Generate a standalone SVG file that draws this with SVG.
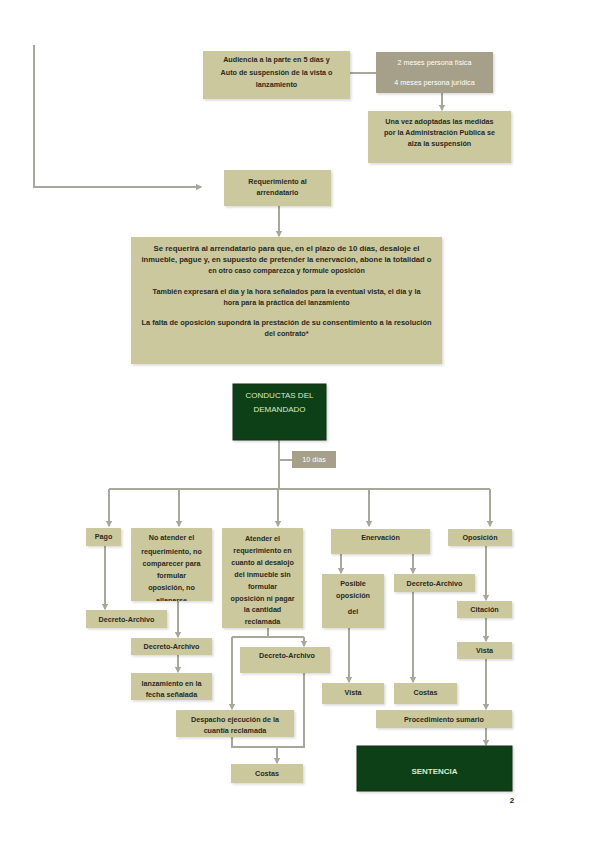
<svg xmlns="http://www.w3.org/2000/svg" width="599" height="848" viewBox="0 0 599 848">
<defs>
<style>
.bx{fill:#cbc89d;}
.gb{fill:#a69f89;}
.gr{fill:#0f3f14;stroke:#1d2a12;stroke-width:1;}
.t{font-family:"Liberation Sans",Arial,sans-serif;font-size:7.2px;font-weight:bold;fill:#2a2a1e;text-anchor:middle;}
.tw{font-family:"Liberation Sans",Arial,sans-serif;font-size:7.2px;fill:#ffffff;text-anchor:middle;}
.tg{font-family:"Liberation Sans",Arial,sans-serif;font-size:8px;fill:#d8ecc8;text-anchor:middle;}
.c{fill:none;stroke:#a9a79a;stroke-width:2;}
.ca{fill:none;stroke:#a9a79a;stroke-width:2;marker-end:url(#ah);}
</style>
<marker id="ah" viewBox="0 0 10 10" refX="8" refY="5" markerWidth="3.2" markerHeight="3.2" orient="auto">
<path d="M0,0 L10,5 L0,10 z" fill="#a9a79a"/>
</marker>
<filter id="sh" x="-10%" y="-10%" width="130%" height="140%">
<feDropShadow dx="1.5" dy="1.5" stdDeviation="1" flood-color="#000" flood-opacity="0.15"/>
</filter>
<clipPath id="clipNo"><rect x="131" y="528" width="81" height="73"/></clipPath>
</defs>
<rect width="599" height="848" fill="#ffffff"/>

<g id="connectors">
<path class="ca" d="M34,45 V187 H201"/>
<path class="c" d="M350,73 H376"/>
<path class="ca" d="M442,93 V110"/>
<path class="ca" d="M279,206 V236"/>
<path class="c" d="M279,440 V489"/>
<path class="c" d="M279,460 H292"/>
<path class="c" d="M109,489 H490"/>
<path class="ca" d="M109,489 V526"/>
<path class="ca" d="M179,489 V526"/>
<path class="ca" d="M278,489 V526"/>
<path class="ca" d="M369,489 V526"/>
<path class="ca" d="M490,489 V526"/>
<path class="ca" d="M105,546 V609"/>
<path class="ca" d="M178,601 V637"/>
<path class="ca" d="M178,655 V672"/>
<path class="c" d="M268,628 V637"/>
<path class="ca" d="M232,637 V709"/>
<path class="c" d="M232,637 H304"/>
<path class="ca" d="M304,637 V646"/>
<path class="c" d="M232,737 V747 H304 V673"/>
<path class="ca" d="M277,747 V763"/>
<path class="ca" d="M341,554 V573"/>
<path class="ca" d="M413,554 V573"/>
<path class="ca" d="M349,628 V682"/>
<path class="ca" d="M413,592 V682"/>
<path class="ca" d="M486,546 V600"/>
<path class="ca" d="M486,618 V641"/>
<path class="ca" d="M486,659 V709"/>
<path class="ca" d="M486,728 V745"/>
</g>

<g id="n-audiencia">
<rect class="bx" x="203" y="51" width="147" height="48" filter="url(#sh)"/>
<text class="t" x="276.5" y="62">Audiencia a la parte en 5 días y</text>
<text class="t" x="276.5" y="75">Auto de suspensión de la vista o</text>
<text class="t" x="276.5" y="87">lanzamiento</text>
</g>

<g id="n-meses">
<rect class="gb" x="376" y="52" width="117" height="41" filter="url(#sh)"/>
<text class="tw" x="434.5" y="65">2 meses persona física</text>
<text class="tw" x="434.5" y="85">4 meses persona jurídica</text>
</g>

<g id="n-unavez">
<rect class="bx" x="368" y="111" width="143" height="52" filter="url(#sh)"/>
<text class="t" x="439.5" y="124">Una vez adoptadas las medidas</text>
<text class="t" x="439.5" y="135">por la Administración Publica se</text>
<text class="t" x="439.5" y="146">alza la suspensión</text>
</g>

<g id="n-requerimiento">
<rect class="bx" x="224" y="170" width="107" height="36" filter="url(#sh)"/>
<text class="t" x="277.5" y="184">Requerimiento al</text>
<text class="t" x="277.5" y="195">arrendatario</text>
</g>

<g id="n-texto">
<rect class="bx" x="131" y="237" width="311" height="127" filter="url(#sh)"/>
<text class="t" x="286.5" y="251" textLength="266" lengthAdjust="spacingAndGlyphs">Se requerirá al arrendatario para que, en el plazo de 10 días, desaloje el</text>
<text class="t" x="286.5" y="262" textLength="290" lengthAdjust="spacingAndGlyphs">inmueble, pague y, en supuesto de pretender la enervación, abone la totalidad o</text>
<text class="t" x="286.5" y="273">en otro caso comparezca y formule oposición</text>
<text class="t" x="286.5" y="294" textLength="268" lengthAdjust="spacingAndGlyphs">También expresará el día y la hora señalados para la eventual vista, el día y la</text>
<text class="t" x="286.5" y="305">hora para la práctica del lanzamiento</text>
<text class="t" x="286.5" y="325" textLength="290" lengthAdjust="spacingAndGlyphs">La falta de oposición supondrá la prestación de su consentimiento a la resolución</text>
<text class="t" x="286.5" y="336">del contrato*</text>
</g>

<g id="n-conductas">
<rect class="gr" x="233" y="384" width="93" height="56" filter="url(#sh)"/>
<text class="tg" x="279.5" y="398">CONDUCTAS DEL</text>
<text class="tg" x="279.5" y="412">DEMANDADO</text>
</g>

<g id="n-10dias">
<rect class="gb" x="292" y="451" width="44" height="17"/>
<text class="tw" x="314" y="462">10 días</text>
</g>

<g id="n-pago">
<rect class="bx" x="86" y="528" width="35" height="18" filter="url(#sh)"/>
<text class="t" x="103.5" y="539">Pago</text>
</g>

<g id="n-noatender">
<rect class="bx" x="131" y="528" width="81" height="73" filter="url(#sh)"/>
<g clip-path="url(#clipNo)">
<text class="t" x="171.5" y="540">No atender el</text>
<text class="t" x="171.5" y="554">requerimiento, no</text>
<text class="t" x="171.5" y="566">comparecer para</text>
<text class="t" x="171.5" y="578">formular</text>
<text class="t" x="171.5" y="590">oposición, no</text>
<text class="t" x="171.5" y="603">allanarse</text>
</g>
</g>

<g id="n-atender">
<rect class="bx" x="222" y="528" width="81" height="100" filter="url(#sh)"/>
<text class="t" x="262.5" y="541">Atender el</text>
<text class="t" x="262.5" y="553">requerimiento en</text>
<text class="t" x="262.5" y="565">cuanto al desalojo</text>
<text class="t" x="262.5" y="577">del inmueble sin</text>
<text class="t" x="262.5" y="589">formular</text>
<text class="t" x="262.5" y="601">oposición ni pagar</text>
<text class="t" x="262.5" y="612">la cantidad</text>
<text class="t" x="262.5" y="624">reclamada</text>
</g>

<g id="n-enervacion">
<rect class="bx" x="331" y="529" width="99" height="25" filter="url(#sh)"/>
<text class="t" x="380.5" y="540">Enervación</text>
</g>

<g id="n-oposicion">
<rect class="bx" x="448" y="529" width="64" height="17" filter="url(#sh)"/>
<text class="t" x="480" y="540">Oposición</text>
</g>

<g id="n-decreto1">
<rect class="bx" x="86" y="610" width="81" height="18" filter="url(#sh)"/>
<text class="t" x="126.5" y="622">Decreto-Archivo</text>
</g>

<g id="n-decreto2">
<rect class="bx" x="131" y="638" width="81" height="17" filter="url(#sh)"/>
<text class="t" x="171.5" y="649">Decreto-Archivo</text>
</g>

<g id="n-lanzamiento">
<rect class="bx" x="131" y="673" width="81" height="27" filter="url(#sh)"/>
<text class="t" x="171.5" y="686">lanzamiento en la</text>
<text class="t" x="171.5" y="697">fecha señalada</text>
</g>

<g id="n-decreto3">
<rect class="bx" x="240" y="647" width="90" height="26" filter="url(#sh)"/>
<text class="t" x="287" y="658">Decreto-Archivo</text>
</g>

<g id="n-despacho">
<rect class="bx" x="176" y="710" width="118" height="27" filter="url(#sh)"/>
<text class="t" x="235" y="722">Despacho ejecución de la</text>
<text class="t" x="235" y="733">cuantía reclamada</text>
</g>

<g id="n-costas1">
<rect class="bx" x="231" y="764" width="72" height="19" filter="url(#sh)"/>
<text class="t" x="267" y="776">Costas</text>
</g>

<g id="n-posible">
<rect class="bx" x="322" y="574" width="62" height="54" filter="url(#sh)"/>
<text class="t" x="353" y="586">Posible</text>
<text class="t" x="353" y="598">oposición</text>
<text class="t" x="353" y="614">del</text>
</g>

<g id="n-decreto4">
<rect class="bx" x="394" y="574" width="81" height="18" filter="url(#sh)"/>
<text class="t" x="434.5" y="586">Decreto-Archivo</text>
</g>

<g id="n-vista1">
<rect class="bx" x="322" y="683" width="62" height="21" filter="url(#sh)"/>
<text class="t" x="353" y="695">Vista</text>
</g>

<g id="n-costas2">
<rect class="bx" x="394" y="683" width="63" height="21" filter="url(#sh)"/>
<text class="t" x="425.5" y="695">Costas</text>
</g>

<g id="n-citacion">
<rect class="bx" x="457" y="601" width="55" height="17" filter="url(#sh)"/>
<text class="t" x="484.5" y="612">Citación</text>
</g>

<g id="n-vista2">
<rect class="bx" x="457" y="642" width="55" height="17" filter="url(#sh)"/>
<text class="t" x="484.5" y="653">Vista</text>
</g>

<g id="n-procedimiento">
<rect class="bx" x="376" y="710" width="136" height="18" filter="url(#sh)"/>
<text class="t" x="444" y="722">Procedimiento sumario</text>
</g>

<g id="n-sentencia">
<rect class="gr" x="357" y="746" width="155" height="45" filter="url(#sh)"/>
<text class="tg" x="434.5" y="774" font-weight="bold">SENTENCIA</text>
</g>

<text x="512" y="803" style="font-family:'Liberation Sans',Arial,sans-serif;font-size:8px;font-weight:bold;fill:#222" text-anchor="middle">2</text>
</svg>
